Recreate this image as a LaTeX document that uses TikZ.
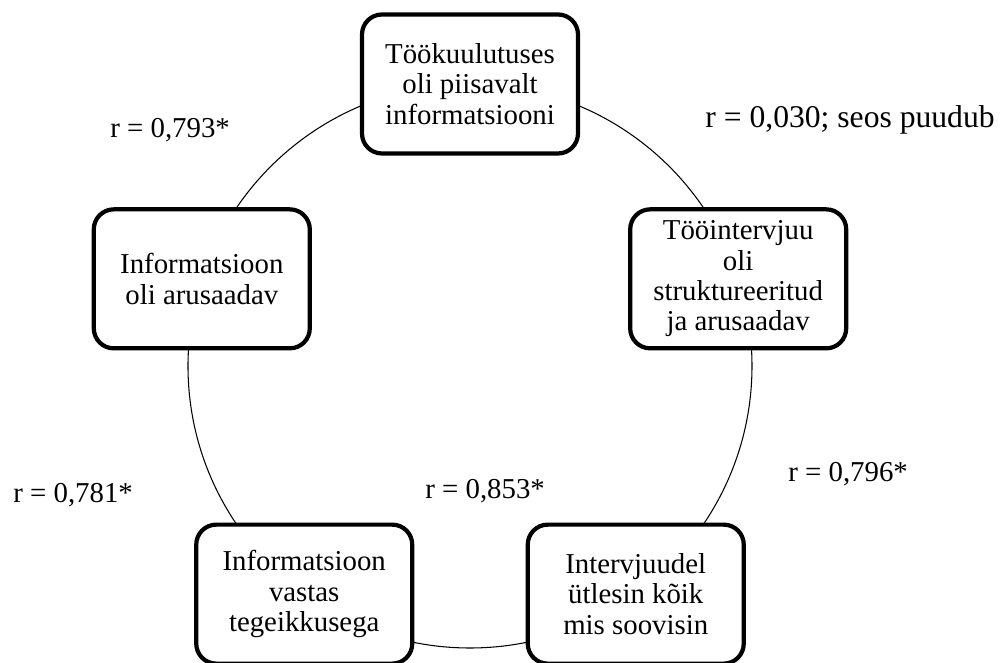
\documentclass[tikz,border=0pt]{standalone}
\usepackage{fontspec}
\setmainfont{Liberation Serif}
\usetikzlibrary{positioning}

\begin{document}
\begin{tikzpicture}[every node/.style={font=\fontsize{16.4}{17.3}\selectfont},
  box/.style={draw,line width=2.4pt,rounded corners=0.4cm,fill=white,align=center,
    minimum width=4.32cm,minimum height=2.78cm,inner sep=2pt},
  corr/.style={anchor=base west,inner sep=0pt}]
\useasboundingbox (-9.4,7.32) rectangle (10.6,-5.94);
  \node[draw,circle,line width=0.6pt,minimum size=11.28cm,inner sep=0pt] (ring) at (0,0){};

  \node[box] (kuulutus) at (90:5.64){Töökuulutuses\\oli piisavalt\\informatsiooni};
  \node[box] (intervjuu) at (18:5.64){Tööintervjuu\\oli\\struktureeritud\\ja arusaadav};
  \node[box] (utlesin) at (-54:5.64){Intervjuudel\\ütlesin kõik\\mis soovisin};
  \node[box] (vastas) at (234:5.64){Informatsioon\\vastas\\tegeikkusega};
  \node[box] (arusaadav) at (162:5.64){Informatsioon\\oli arusaadav};

  \node[corr] (r1) at (-7.2,4.56){r = 0,793*};
  \node[corr,font=\fontsize{18}{19}\selectfont] (r2) at (4.7,4.76){r = 0,030; seos puudub};
  \node[corr] (r3) at (6.36,-2.32){r = 0,796*};
  \node[corr] (r4) at (-0.9,-2.66){r = 0,853*};
  \node[corr] (r5) at (-9.14,-2.74){r = 0,781*};
\end{tikzpicture}
\end{document}
